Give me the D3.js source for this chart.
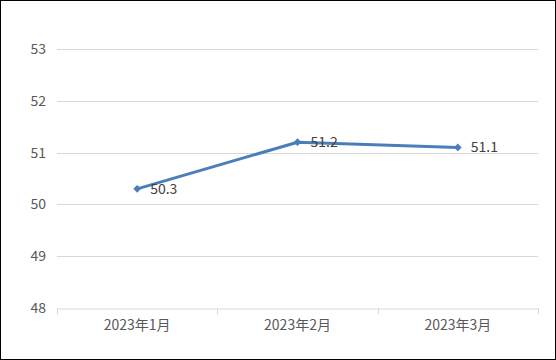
<!DOCTYPE html>
<html><head><meta charset="utf-8">
<script src="https://cdn.jsdelivr.net/npm/d3@7"></script>
<style>html,body{margin:0;padding:0;background:#fff}svg{display:block}</style>
</head><body>
<script>
const categories = ["2023年1月", "2023年2月", "2023年3月"];
const values = [50.3, 51.2, 51.1];
const yTicks = [48, 49, 50, 51, 52, 53];

const W = 556, H = 360;
const m = {left: 57, right: 18, top: 49, bottom: 52};
const svg = d3.select("body").append("svg").attr("width", W).attr("height", H);
svg.append("rect").attr("x", 0.5).attr("y", 0.5).attr("width", W - 1).attr("height", H - 1)
  .attr("fill", "#fff").attr("stroke", "#000");

const x = d3.scaleBand().domain(categories).range([m.left, W - m.right]);
const y = d3.scaleLinear().domain([48, 53]).range([H - m.bottom, m.top]);
const font = "'Noto Sans CJK SC','DejaVu Sans',sans-serif";

// gridlines
svg.append("g").selectAll("line").data(yTicks.filter(d => d !== 48)).join("line")
  .attr("x1", m.left).attr("x2", W - m.right)
  .attr("y1", d => Math.round(y(d)) + 0.5).attr("y2", d => Math.round(y(d)) + 0.5)
  .attr("stroke", "#d9d9d9").attr("stroke-width", 1);

// y axis labels
const ya = svg.append("g").attr("transform", `translate(${m.left},0)`)
  .call(d3.axisLeft(y).tickValues(yTicks).tickSize(0).tickPadding(11).tickFormat(d3.format("d")));
ya.select(".domain").remove();
ya.selectAll("text").attr("fill", "#595959").style("font-size", "14px").style("font-family", font);

// x axis
const xa = svg.append("g").attr("transform", `translate(0,${Math.round(y(48)) + 0.5})`)
  .call(d3.axisBottom(x).tickSize(0).tickPadding(12));
xa.select(".domain").attr("stroke", "#d9d9d9");
xa.selectAll("text").attr("fill", "#595959").style("font-size", "14px").style("font-family", font);
const tickPos = categories.map(c => x(c)).concat([x(categories[categories.length - 1]) + x.bandwidth()]);
svg.append("g").selectAll("line").data(tickPos).join("line")
  .attr("x1", d => Math.round(d) + 0.5).attr("x2", d => Math.round(d) + 0.5)
  .attr("y1", Math.round(y(48))).attr("y2", Math.round(y(48)) + 6)
  .attr("stroke", "#d9d9d9");

// line
const cx = (c) => x(c) + x.bandwidth() / 2;
const line = d3.line().x((d, i) => cx(categories[i])).y(d => y(d));
svg.append("path").datum(values).attr("d", line).attr("fill", "none")
  .attr("stroke", "#4a7ebb").attr("stroke-width", 3).attr("stroke-linejoin", "round");

svg.append("g").selectAll("path").data(values).join("path")
  .attr("d", d3.symbol().type(d3.symbolSquare).size(30))
  .attr("transform", (d, i) => `translate(${cx(categories[i])},${y(d)}) rotate(45)`)
  .attr("fill", "#4a7ebb");

svg.append("g").selectAll("text").data(values).join("text")
  .attr("x", (d, i) => cx(categories[i]) + 13).attr("y", d => y(d) + 5)
  .attr("fill", "#404040").style("font-size", "14px").style("font-family", font)
  .text(d => d3.format(".1f")(d));
</script>
</body></html>
